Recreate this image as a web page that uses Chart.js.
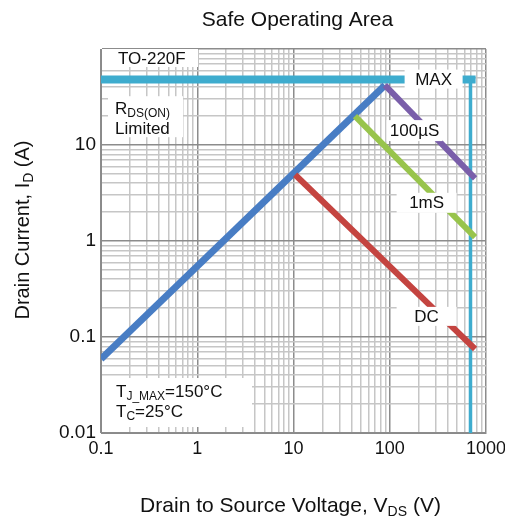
<!DOCTYPE html>
<html>
<head>
<meta charset="utf-8">
<script src="https://cdn.jsdelivr.net/npm/chart.js@4/dist/chart.umd.min.js"></script>
<style>
  html, body { margin: 0; padding: 0; background: #fff; }
  #wrap { width: 505px; height: 518px; }
</style>
</head>
<body>
<div id="wrap"><canvas id="soa" width="505" height="518"></canvas></div>
<script>
// SOA curves (V in volts, I in amps)
const rdsV = [0.1, 89];
const rdsI = [0.059, 42];
const maxV = [0.1, 780];
const maxI = [48, 48];
const bvV = [690, 690];
const bvI = [48, 0.01];
const us100V = [89, 770];
const us100I = [42, 4.5];
const ms1V = [43.5, 770];
const ms1I = [20, 1.1];
const dcV = [10.4, 770];
const dcI = [4.9, 0.075];

const xDecades = [0.1, 1, 10, 100, 1000];
const xTickLabels = ['0.1', '1', '10', '100', '1000'];
const yDecades = [0.01, 0.1, 1, 10, 100];
const yTickLabels = ['0.01', '0.1', '1', '10', ''];

const FONT = '"Liberation Sans", Arial, sans-serif';

function pts(xs, ys) {
  return xs.map((x, i) => ({ x: x, y: ys[i] }));
}

// 1..9 in every decade for the grid
function gridValues(decades) {
  const out = [];
  decades.forEach((d, i) => {
    if (i === decades.length - 1) { out.push(d); return; }
    for (let k = 1; k <= 9; k++) out.push(+(d * k).toPrecision(3));
  });
  return out;
}

function isDecade(v, decades) {
  return decades.some(d => Math.abs(d - v) / d < 1e-6);
}

function line(label, xs, ys, color, width) {
  return {
    label: label,
    data: pts(xs, ys),
    borderColor: color,
    backgroundColor: color,
    borderWidth: width,
    pointRadius: 0,
    showLine: true,
    borderCapStyle: 'butt',
    tension: 0,
  };
}

// text with subscripts: [['R'], ['DS(ON)', true]]
function drawRich(ctx, parts, x, y, size, align) {
  const subSize = Math.round(size * 0.68);
  let total = 0;
  parts.forEach(p => {
    ctx.font = (p[1] ? subSize : size) + 'px ' + FONT;
    total += ctx.measureText(p[0]).width;
  });
  let cx = align === 'center' ? x - total / 2 : x;
  ctx.textAlign = 'left';
  ctx.textBaseline = 'alphabetic';
  parts.forEach(p => {
    ctx.font = (p[1] ? subSize : size) + 'px ' + FONT;
    ctx.fillText(p[0], cx, p[1] ? y + size * 0.18 : y);
    cx += ctx.measureText(p[0]).width;
  });
}

// label boxes, anchored at a (V, I) point, size in px
const notes = [
  { v: 0.1, i: 100, w: 96, h: 18, dx: 1, dy: 0, lines: [[['TO-220F']]], tx: 16, ty: 15, align: 'left' },
  { v: 0.1, i: 30, w: 75, h: 41, dx: 7, dy: -3, lines: [[['R'], ['DS(ON)', true]], [['Limited']]], tx: 7, ty: 18, align: 'left' },
  { v: 780, i: 48, w: 58, h: 19, dx: -71, dy: -10, lines: [[['MAX']]], tx: 29, ty: 15, align: 'center' },
  { v: 780, i: 15, w: 56, h: 21, dx: -89, dy: -8, lines: [[['100µS']]], tx: 28, ty: 16, align: 'center' },
  { v: 780, i: 2.5, w: 60, h: 20, dx: -79, dy: -10, lines: [[['1mS']]], tx: 30, ty: 15, align: 'center' },
  { v: 780, i: 0.17, w: 60, h: 19, dx: -79, dy: -8, lines: [[['DC']]], tx: 30, ty: 15, align: 'center' },
  { v: 0.1, i: 0.01, w: 150, h: 49, dx: 1, dy: -55, lines: [[['T'], ['J_MAX', true], ['=150°C']], [['T'], ['C', true], ['=25°C']]], tx: 14, ty: 19, align: 'left' },
];

const decor = {
  id: 'decor',
  afterDatasetsDraw(chart) {
    const ctx = chart.ctx;
    const xs = chart.scales.x, ys = chart.scales.y;
    const area = chart.chartArea;
    ctx.save();
    notes.forEach(n => {
      const bx = xs.getPixelForValue(n.v) + n.dx;
      const by = ys.getPixelForValue(n.i) + n.dy;
      ctx.fillStyle = '#fff';
      ctx.fillRect(bx, by, n.w, n.h);
      ctx.fillStyle = '#111';
      n.lines.forEach((ln, k) => {
        drawRich(ctx, ln, bx + n.tx, by + n.ty + k * 20, 17, n.align);
      });
    });
    ctx.fillStyle = '#111';
    ctx.font = '21px ' + FONT;
    ctx.textAlign = 'center';
    ctx.textBaseline = 'middle';
    ctx.fillText('Safe Operating Area', (area.left + area.right) / 2 + 4, 20);
    drawRich(ctx, [['Drain to Source Voltage, V'], ['DS', true], [' (V)']], (area.left + area.right) / 2 - 3, 512, 21, 'center');
    ctx.translate(29, (area.top + area.bottom) / 2 - 11);
    ctx.rotate(-Math.PI / 2);
    drawRich(ctx, [['Drain Current, I'], ['D', true], [' (A)']], 0, 0, 20, 'center');
    ctx.restore();
  }
};

function logScale(min, max, decades, labels, size, fontSize) {
  const grid = gridValues(decades);
  return {
    type: 'logarithmic',
    min: min,
    max: max,
    afterBuildTicks(scale) {
      scale.ticks = grid.map(v => ({ value: v, major: isDecade(v, decades) }));
    },
    afterFit(scale) {
      if (scale.isHorizontal()) {
        scale.height = size;
        scale.paddingLeft = 0;
        scale.paddingRight = 0;
      } else {
        scale.width = size;
        scale.paddingTop = 0;
        scale.paddingBottom = 0;
      }
    },
    border: { display: true, color: '#8a8a8a', width: 1 },
    grid: {
      drawTicks: false,
      color: c => isDecade(c.tick.value, decades) ? '#8c8c8c' : '#c6c6c6',
      lineWidth: 1.5,
    },
    ticks: {
      autoSkip: false,
      maxRotation: 0,
      padding: 5,
      color: '#111',
      font: { family: FONT, size: fontSize },
      callback(value) {
        const k = decades.findIndex(d => Math.abs(d - value) / d < 1e-6);
        return k >= 0 ? labels[k] : '';
      },
    },
  };
}

new Chart(document.getElementById('soa'), {
  type: 'scatter',
  data: {
    datasets: [
      line('100µS', us100V, us100I, 'rgb(122,94,170)', 6),
      line('1mS', ms1V, ms1I, 'rgb(152,196,76)', 6),
      line('DC', dcV, dcI, 'rgb(196,68,64)', 6),
      line('RDS(ON)', rdsV, rdsI, 'rgb(72,125,196)', 7),
      line('MAX', maxV, maxI, 'rgb(62,172,206)', 8),
      line('VDSS', bvV, bvI, 'rgb(62,172,206)', 3.5),
    ],
  },
  options: {
    responsive: false,
    animation: false,
    layout: { padding: { top: 49, right: 19, left: 0, bottom: 0 } },
    plugins: {
      legend: { display: false },
      tooltip: { enabled: false },
    },
    scales: {
      x: logScale(0.1, 1000, xDecades, xTickLabels, 85, 18),
      y: logScale(0.01, 100, yDecades, yTickLabels, 101, 19),
    },
  },
  plugins: [decor],
});
</script>
</body>
</html>
